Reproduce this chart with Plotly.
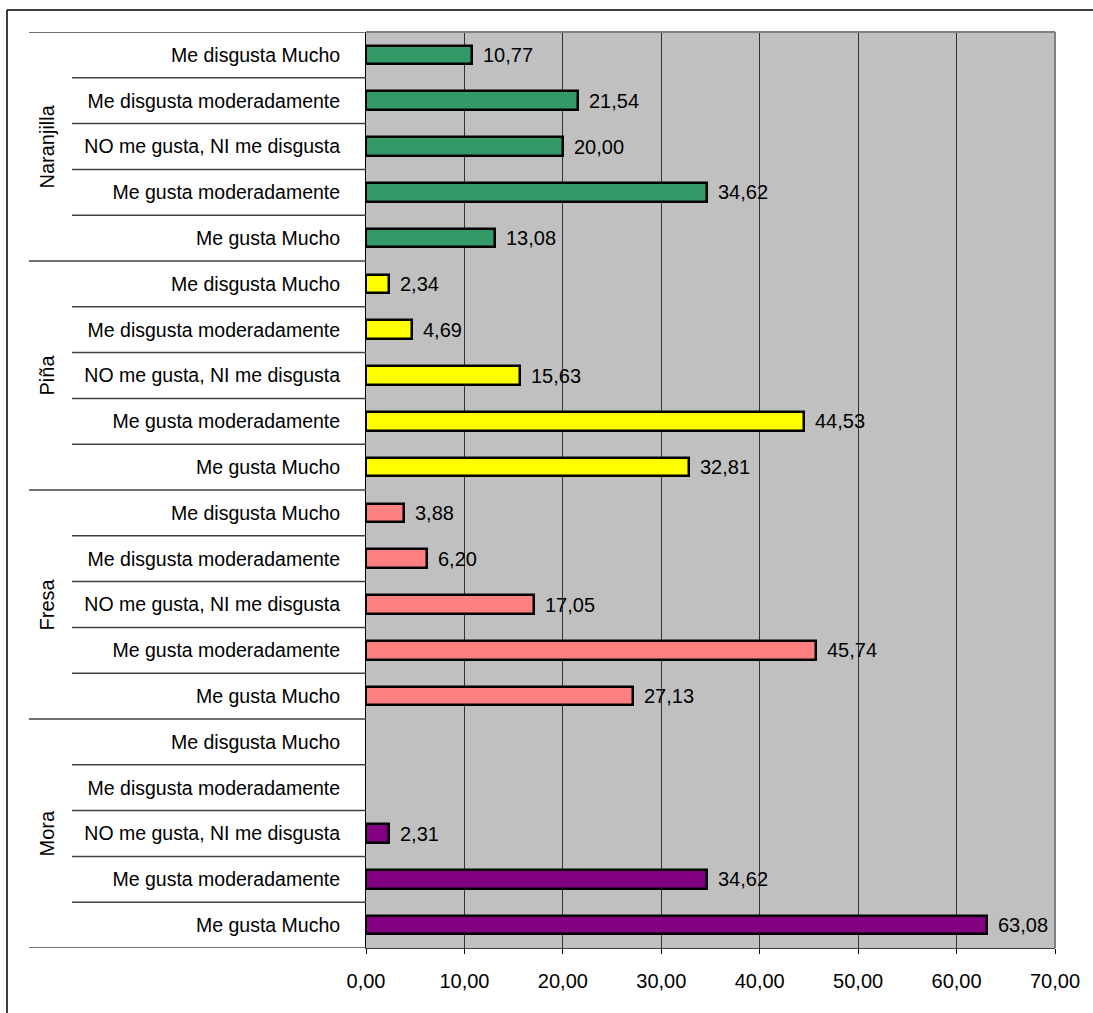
import plotly.graph_objects as go

# Survey results: liking level per fruit (percent of responses)
fruits = ["Naranjilla", "Piña", "Fresa", "Mora"]
levels = [
    "Me disgusta Mucho",
    "Me disgusta moderadamente",
    "NO me gusta, NI me disgusta",
    "Me gusta moderadamente",
    "Me gusta Mucho",
]
naranjilla = [10.77, 21.54, 20.00, 34.62, 13.08]
pina = [2.34, 4.69, 15.63, 44.53, 32.81]
fresa = [3.88, 6.20, 17.05, 45.74, 27.13]
mora = [None, None, 2.31, 34.62, 63.08]
series = [naranjilla, pina, fresa, mora]
colors = ["#339966", "#FFFF00", "#FF8080", "#800080"]
x_ticks = [0, 10, 20, 30, 40, 50, 60, 70]

FONT = "Liberation Sans, Arial, sans-serif"
W, H = 1093, 1013
ML, MR, MT, MB = 366, 38, 32, 65
plot_w = W - ML - MR
plot_h = H - MT - MB


def px_to_paper_x(px):
    return (px - ML) / plot_w


def px_to_paper_y(py):
    return 1 - (py - MT) / plot_h


n_levels = len(levels)
fig = go.Figure()
annotations = []

for g, (fruit, vals, col) in enumerate(zip(fruits, series, colors)):
    pos = [g * n_levels + j for j in range(n_levels)]
    fig.add_trace(go.Bar(
        x=vals, y=pos, orientation="h", width=0.41,
        marker=dict(color=col, line=dict(color="black", width=2.5)),
        name=fruit, showlegend=False, hoverinfo="x+y",
    ))
    for p, v in zip(pos, vals):
        if v is None:
            continue
        annotations.append(dict(
            x=v, y=p, xref="x", yref="y", text=f"{v:.2f}".replace(".", ","),
            showarrow=False, xanchor="left", yanchor="middle", xshift=9,
            font=dict(family=FONT, size=20, color="black"),
        ))
    # rotated fruit name on the left
    annotations.append(dict(
        x=px_to_paper_x(46), y=g * n_levels + (n_levels - 1) / 2,
        xref="paper", yref="y", text=fruit, textangle=-90, showarrow=False,
        xanchor="center", yanchor="middle",
        font=dict(family=FONT, size=20, color="black"),
    ))

all_pos = list(range(len(fruits) * n_levels))
all_labels = levels * len(fruits)

shapes = []
sep_color = "#404040"
# separators between levels and between fruit groups
for b in range(len(all_pos) + 1):
    yb = b - 0.5
    group_edge = b % n_levels == 0
    x0 = px_to_paper_x(29) if group_edge else px_to_paper_x(72)
    shapes.append(dict(type="line", xref="paper", yref="y", x0=x0, x1=0,
                       y0=yb, y1=yb, line=dict(color=sep_color, width=1.5)))

# plot-area frame (top and right), grey
shapes.append(dict(type="line", xref="paper", yref="paper", x0=0, x1=1, y0=1, y1=1,
                   line=dict(color="#808080", width=2)))
shapes.append(dict(type="line", xref="paper", yref="paper", x0=1, x1=1, y0=0, y1=1,
                   line=dict(color="#808080", width=2)))
# outer chart frame
shapes.append(dict(type="line", xref="paper", yref="paper",
                   x0=px_to_paper_x(7), x1=px_to_paper_x(1200),
                   y0=px_to_paper_y(10), y1=px_to_paper_y(10),
                   line=dict(color="black", width=1.5)))
shapes.append(dict(type="line", xref="paper", yref="paper",
                   x0=px_to_paper_x(7), x1=px_to_paper_x(7),
                   y0=px_to_paper_y(10), y1=px_to_paper_y(1100),
                   line=dict(color="black", width=1.5)))

fig.update_layout(
    width=W, height=H,
    margin=dict(l=ML, r=MR, t=MT, b=MB, pad=0),
    paper_bgcolor="white", plot_bgcolor="#C0C0C0",
    separators=",.",
    bargap=0,
    shapes=shapes, annotations=annotations,
    font=dict(family=FONT, size=20, color="black"),
    xaxis=dict(
        range=[0, 70], tickvals=x_ticks, tickformat=".2f",
        showgrid=True, gridcolor="#333333", gridwidth=1,
        zeroline=False, showline=True, linecolor="#404040", linewidth=1,
        ticks="outside", ticklen=5, tickcolor="black",
        ticklabelstandoff=10,
        tickfont=dict(family=FONT, size=20, color="black"),
        fixedrange=True,
    ),
    yaxis=dict(
        range=[len(all_pos) - 0.5, -0.5], tickvals=all_pos, ticktext=all_labels,
        showgrid=False, zeroline=False, showline=True, linecolor="black",
        linewidth=1, ticks="", ticklabelstandoff=21,
        tickfont=dict(family=FONT, size=19.5, color="black"),
        fixedrange=True,
    ),
)

fig.write_html("out.html")
